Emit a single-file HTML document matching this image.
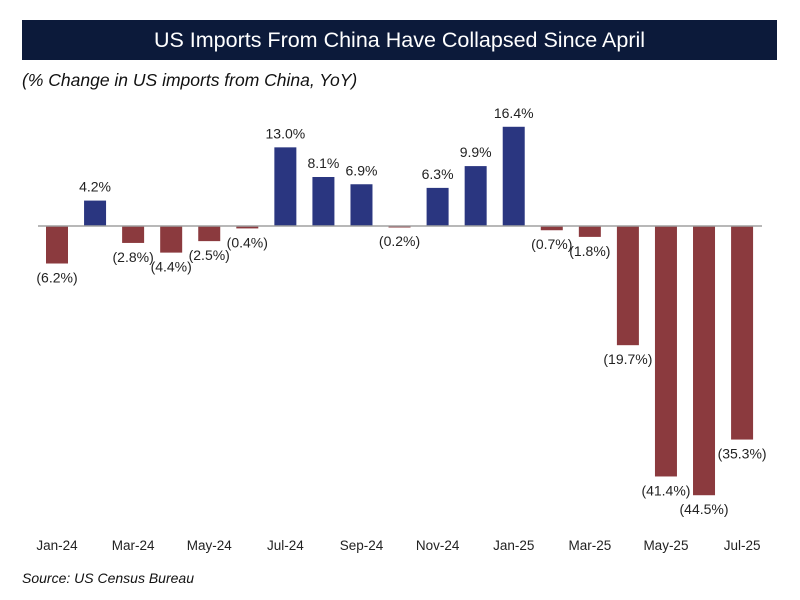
<!DOCTYPE html>
<html><head><meta charset="utf-8">
<style>
html,body{margin:0;padding:0;background:#fff;}
body{width:800px;height:600px;position:relative;overflow:hidden;font-family:"Liberation Sans",sans-serif;}
#title{position:absolute;left:22px;top:20px;width:755px;height:40px;background:#0c1a3a;color:#fff;font-size:21.5px;line-height:40px;text-align:center;}
#sub{position:absolute;left:22px;top:70px;font-size:17.5px;font-style:italic;color:#111;}
#src{position:absolute;left:22px;top:570px;font-size:14px;font-style:italic;color:#111;}
svg{position:absolute;left:0;top:0;}
</style></head><body>
<div id="title">US Imports From China Have Collapsed Since April</div>
<div id="sub">(% Change in US imports from China, YoY)</div>
<svg id="chart" width="800" height="600"></svg>
<div id="src">Source: US Census Bureau</div>
<script>
const categories = ["Jan-24","Feb-24","Mar-24","Apr-24","May-24","Jun-24","Jul-24","Aug-24","Sep-24","Oct-24","Nov-24","Dec-24","Jan-25","Feb-25","Mar-25","Apr-25","May-25","Jun-25","Jul-25"];
const values = [-6.2,4.2,-2.8,-4.4,-2.5,-0.4,13.0,8.1,6.9,-0.2,6.3,9.9,16.4,-0.7,-1.8,-19.7,-41.4,-44.5,-35.3];
const tickLabels = ["Jan-24","Mar-24","May-24","Jul-24","Sep-24","Nov-24","Jan-25","Mar-25","May-25","Jul-25"];

const NS="http://www.w3.org/2000/svg";
const svg=document.getElementById('chart');
const zeroY=226, pxPer=6.05, x0=57, step=38.06, bw=22;
const y=v=>zeroY - v*pxPer;
const x=i=>x0 + i*step;
function mk(t,a){const e=document.createElementNS(NS,t);for(const k in a)e.setAttribute(k,a[k]);svg.appendChild(e);return e;}
const fmt=v=>v<0?"("+Math.abs(v).toFixed(1)+"%)":v.toFixed(1)+"%";

values.forEach((v,i)=>{
  const top=Math.min(y(v),zeroY), h=Math.abs(y(v)-zeroY);
  const r=mk('rect',{x:x(i)-bw/2,y:top,width:bw,height:Math.max(h,1.5),fill:v>=0?'#2a3680':'#8b3a3e'});
  
  
  const t=mk('text',{x:x(i),y:v>=0?y(v)-9:y(v)+19,'text-anchor':'middle','font-size':'14',fill:'#222'});
  t.textContent=fmt(v);
  
  
});
const zl=mk('line',{x1:38,x2:762,y1:zeroY,y2:zeroY,stroke:'#a0a0a0','stroke-width':1.5});


tickLabels.forEach(lab=>{
  const i=categories.indexOf(lab);
  const t=mk('text',{x:x(i),y:550,'text-anchor':'middle','font-size':'13.5',fill:'#222'});
  t.textContent=lab;
  
  
});
</script>
</body></html>
